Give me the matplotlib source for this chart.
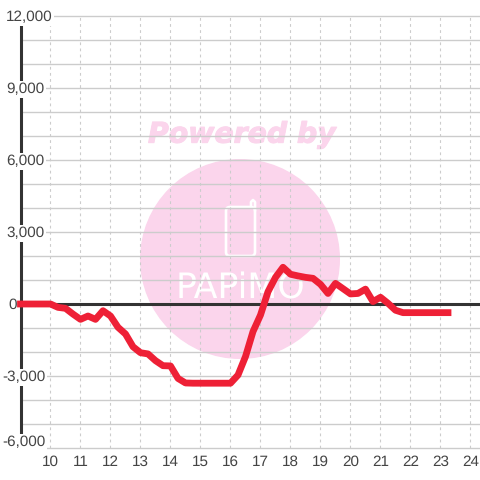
import matplotlib
matplotlib.use('Agg')
import matplotlib.pyplot as plt
import matplotlib.patheffects as pe
from matplotlib.patches import Circle, FancyBboxPatch

hours = [9, 9.25, 9.5, 9.75, 10, 10.25, 10.5, 10.75, 11, 11.25, 11.5, 11.75,
         12, 12.25, 12.5, 12.75, 13, 13.25, 13.5, 13.75, 14, 14.25, 14.5, 14.75,
         15, 15.25, 15.5, 15.75, 16, 16.25, 16.5, 16.75, 17, 17.25, 17.5, 17.75,
         18, 18.25, 18.5, 18.75, 19, 19.25, 19.5, 19.75, 20, 20.25, 20.5, 20.75,
         21, 21.25, 21.5, 21.75, 22, 22.25, 22.5, 22.75, 23, 23.25]
values = [0, 0, 0, 0, 0, -140, -180, -420, -640, -500, -640, -280,
          -500, -970, -1250, -1780, -2030, -2080, -2360, -2570, -2580, -3100, -3290, -3300,
          -3300, -3300, -3300, -3300, -3300, -2960, -2190, -1150, -460, 510, 1110, 1530,
          1240, 1170, 1110, 1070, 820, 440, 860, 640, 420, 440, 620, 100,
          280, 30, -260, -360, -360, -360, -360, -360, -360, -360]
x_ticks = list(range(10, 25))
y_ticks = [-6000, -3000, 0, 3000, 6000, 9000, 12000]
y_minor = [v for v in range(-6000, 12001, 1000) if v % 3000 != 0]
y_labels = ['-6,000', '-3,000', '0', '3,000', '6,000', '9,000', '12,000']
y_label_left = [2, 2, 8, 6, 6, 6, 6]
y_label_shift = [5, 0, 0, 0, 0, 0, 0]

PINK = '#fbd5ec'
DARK = '#333333'
GRID = '#cccccc'
TEXT = '#444444'

plt.rcParams['font.family'] = ['Liberation Sans', 'DejaVu Sans']
plt.rcParams['text.hinting'] = 'no_hinting'

fig = plt.figure(figsize=(4.8, 4.8), dpi=100)

# watermark sits under the chart, in pixel coords
bg = fig.add_axes([0, 0, 1, 1], zorder=0)
bg.set_xlim(0, 480)
bg.set_ylim(480, 0)
bg.axis('off')
bg.add_patch(Circle((240, 259), 100, color=PINK, lw=0))
bg.text(242, 135, 'Powered by', color=PINK, fontsize=20.4, fontweight='bold', fontstyle='italic',
        family='DejaVu Sans', ha='center', va='center',
        path_effects=[pe.withStroke(linewidth=0.8, foreground=PINK)])
bg.add_patch(FancyBboxPatch((226, 207), 29, 49, boxstyle='round,pad=0,rounding_size=4',
                            fc='none', ec='white', lw=1.9))
bg.plot([251, 251, 253, 255, 255], [207, 202, 200, 202, 210], color='white', lw=1.9)
bg.text(240, 289, 'PAPiMO', color='white', fontsize=25, family='DejaVu Sans',
        ha='center', va='center')

ax = fig.add_axes([20.5 / 480, 32 / 480, 459.5 / 480, 432 / 480], zorder=1)
ax.patch.set_alpha(0)
ax.set_xlim(9, 24.317)
ax.set_ylim(-6000, 12000)

ax.set_xticks(x_ticks)
ax.set_yticks(y_ticks)
ax.set_yticks(y_minor, minor=True)
ax.set_yticklabels([])
ax.tick_params(which='both', length=0)
ax.tick_params(axis='x', labelsize=11, labelcolor=TEXT, pad=5)

ax.grid(axis='y', which='both', color=GRID, lw=1, clip_on=False)
ax.grid(axis='x', color=GRID, lw=0.8, ls=(0, (2.5, 3)))
ax.set_axisbelow(True)

for side in ['top', 'right', 'bottom']:
    ax.spines[side].set_visible(False)
ax.spines['left'].set_color(DARK)
ax.spines['left'].set_linewidth(2.2)

ax.axhline(0, color=DARK, lw=2.2, zorder=3)

for v, lab, left, shift in zip(y_ticks, y_labels, y_label_left, y_label_shift):
    ax.annotate(lab, xy=(left / 480, v), xycoords=('figure fraction', 'data'),
                xytext=(0, shift - 1), textcoords='offset points',
                ha='left', va='center', fontsize=11, color=TEXT, zorder=5, annotation_clip=False,
                bbox=dict(fc='white', ec='none', pad=1))

ax.plot(hours, values, color='#ee2036', lw=4.9, solid_capstyle='projecting',
        solid_joinstyle='round', clip_on=False, zorder=6)

fig.savefig('out.png', dpi=100)
